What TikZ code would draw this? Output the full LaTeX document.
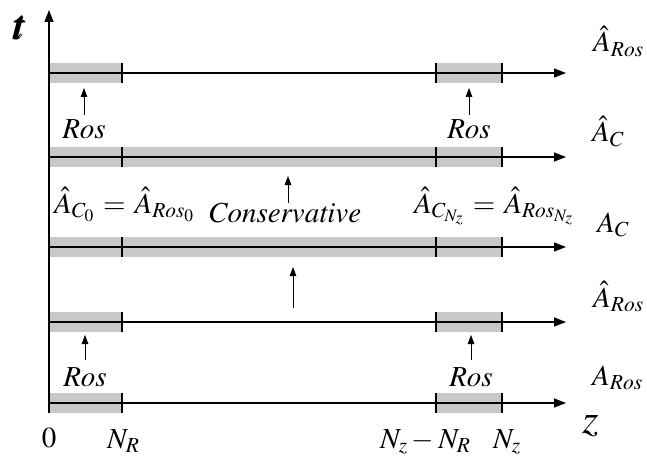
\documentclass[tikz,border=0pt]{standalone}
\usepackage{mathptmx}
\usepackage{bm}
\usetikzlibrary{arrows.meta}
\definecolor{bandgray}{RGB}{200,200,200}
\begin{document}
\begin{tikzpicture}[x=1pt,y=-1pt,
  axisline/.style={line width=1.4pt,-{Triangle[length=12pt,width=9pt]}},
  band/.style={fill=bandgray,draw=none},
  tickmark/.style={line width=1.4pt},
  uparrow/.style={line width=0.8pt,-{Triangle[length=9pt,width=6.5pt]}},
  lbl/.style={font=\fontsize{29}{34}\selectfont,inner sep=0pt},
  big/.style={font=\fontsize{42}{48}\selectfont,inner sep=0pt}]
\useasboundingbox (0,0) rectangle (647,457);
% gray bands
\foreach \y in {73,322,403}{
  \fill[band] (49,\y-10) rectangle (122,\y+10);
  \fill[band] (436,\y-10) rectangle (502,\y+10);
}
\foreach \y in {157,247}{
  \fill[band] (49,\y-10) rectangle (502,\y+10);
}
% ticks
\foreach \y in {73,157,247,322,403}{
  \foreach \x in {122,436,502}{
    \draw[tickmark] (\x,\y-10) -- (\x,\y+10);
  }
}
% horizontal axes
\foreach \k/\y in {1/73,2/157,3/247,4/322,5/403}{
  \coordinate (L\k a) at (49,\y);
  \coordinate (L\k b) at (566,\y);
  \draw[axisline] (L\k a) -- (L\k b);
}
% t axis
\coordinate (T0) at (49,413);
\coordinate (T1) at (49,10);
\draw[axisline] (T0) -- (T1);
\node[big,anchor=base] (tlab) at (20,40) {$\bm{t}$};
% Ros labels and arrows
\node[lbl,anchor=base] (ros1) at (84,139) {$Ros$};
\node[lbl,anchor=base] (ros2) at (469,139) {$Ros$};
\node[lbl,anchor=base] (ros3) at (85,386) {$Ros$};
\node[lbl,anchor=base] (ros4) at (471,386) {$Ros$};
\coordinate (r1t) at (84,88);  \draw[uparrow] (84,115) -- (r1t);
\coordinate (r2t) at (469,88); \draw[uparrow] (469,115) -- (r2t);
\coordinate (r3t) at (85,335); \draw[uparrow] (85,360) -- (r3t);
\coordinate (r4t) at (471,335);\draw[uparrow] (471,360) -- (r4t);
% conservative
\node[lbl,anchor=base west] (cons) at (208,222) {$\mathit{Conservative}$};
\coordinate (c1b) at (288,203); \coordinate (c1t) at (288,176);
\draw[uparrow] (c1b) -- (c1t);
\coordinate (c2b) at (293,308); \coordinate (c2t) at (293,267);
\draw[uparrow] (c2b) -- (c2t);
% equations
\node[lbl,anchor=base west] (eqL) at (54,213) {$\hat{A}_{C_0}\mkern1.5mu=\mkern1.5mu\hat{A}_{Ros_0}$};
\node[lbl,anchor=base west] (eqR) at (414,213) {$\hat{A}_{C_{N_z}}\mkern1.5mu=\mkern1.5mu\hat{A}_{Ros_{N_z}}$};
% right labels
\node[lbl,anchor=base west] (R1) at (593,52) {$\hat{A}_{Ros}$};
\node[lbl,anchor=base west] (R2) at (592,142) {$\hat{A}_{C}$};
\node[lbl,anchor=base west] (R3) at (597,232) {$A_{C}$};
\node[lbl,anchor=base west] (R4) at (593,307) {$\hat{A}_{Ros}$};
\node[lbl,anchor=base west] (R5) at (592,385) {$A_{Ros}$};
\node[big,anchor=base west] (zlab) at (582,433) {$z$};
% bottom labels
\node[lbl,anchor=base] (zero) at (49,447) {$0$};
\node[lbl,anchor=base west] (NR) at (107,448) {$N_R$};
\node[lbl,anchor=base west] (NzNR) at (380,448) {$N_z-N_R$};
\node[lbl,anchor=base west] (Nz) at (493,448) {$N_z$};
\end{tikzpicture}
\end{document}
